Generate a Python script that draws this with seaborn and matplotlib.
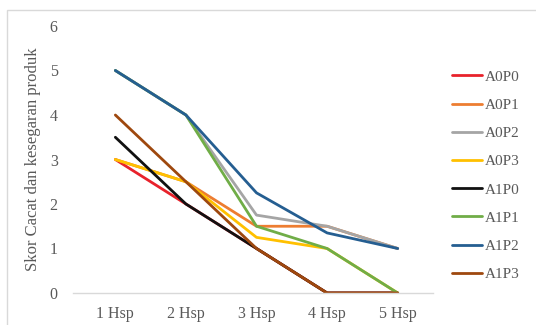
import matplotlib
matplotlib.use("Agg")
import matplotlib.pyplot as plt
import seaborn as sns
import pandas as pd
from matplotlib.patches import Rectangle
from matplotlib.lines import Line2D

days = ["1 Hsp", "2 Hsp", "3 Hsp", "4 Hsp", "5 Hsp"]
a0p0 = [3, 2, 1, 0, 0]
a0p1 = [3, 2.5, 1.5, 1.5, 1]
a0p2 = [5, 4, 1.75, 1.5, 1]
a0p3 = [3, 2.5, 1.25, 1, 0]
a1p0 = [3.5, 2, 1, 0, 0]
a1p1 = [5, 4, 1.5, 1, 0]
a1p2 = [5, 4, 2.25, 1.35, 1]
a1p3 = [4, 2.5, 1, 0, 0]

series = {
    "A0P0": a0p0, "A0P1": a0p1, "A0P2": a0p2, "A0P3": a0p3,
    "A1P0": a1p0, "A1P1": a1p1, "A1P2": a1p2, "A1P3": a1p3,
}
colors = {
    "A0P0": "#E8222B", "A0P1": "#ED7D31", "A0P2": "#A5A5A5", "A0P3": "#FFC000",
    "A1P0": "#111111", "A1P1": "#70AD47", "A1P2": "#255E91", "A1P3": "#9E480E",
}

rows = []
for name, vals in series.items():
    for i, (d, v) in enumerate(zip(days, vals)):
        rows.append({"hari": d, "pos": i, "skor": v, "perlakuan": name})
df = pd.DataFrame(rows)

sns.set_theme(style="white")
plt.rcParams["font.family"] = ["Liberation Serif", "DejaVu Serif"]
text_col = "#595959"

fig = plt.figure(figsize=(5.36, 3.25), dpi=100)
fig.patches.append(Rectangle((7 / 536, -0.1), 1.2, 1 - 10 / 325 + 0.1,
                             transform=fig.transFigure, fill=False,
                             edgecolor="#D9D9D9", linewidth=1.0))
ax = fig.add_axes([73 / 536, 1 - 293 / 325, (433 - 73) / 536, (293 - 26) / 325])

sns.lineplot(data=df, x="pos", y="skor", hue="perlakuan", palette=colors,
             linewidth=2.0, ax=ax, legend=False, sort=False)

ax.set_xlim(-0.6, 4.5)
ax.set_ylim(0, 6)
ax.set_xticks(range(len(days)))
ax.set_xticklabels(days)
ax.set_yticks(range(0, 7))
ax.tick_params(axis="both", length=0, labelsize=11.5, colors=text_col)
ax.tick_params(axis="x", pad=9)
ax.tick_params(axis="y", pad=11)
ax.set_xlabel("")
ax.set_ylabel("Skor Cacat dan kesegaran produk", fontsize=12, color=text_col, labelpad=6)
for s in ["top", "right", "left"]:
    ax.spines[s].set_visible(False)
ax.spines["bottom"].set_color("#D9D9D9")
ax.spines["bottom"].set_linewidth(1.0)
ax.grid(False)

handles = [Line2D([0], [0], color=colors[n], lw=2) for n in series]
fig.legend(handles, list(series.keys()), loc="upper left",
           bbox_to_anchor=(446 / 536, 1 - 64 / 325), frameon=False,
           fontsize=11, labelcolor=text_col, handlelength=1.95,
           handletextpad=0.2, labelspacing=0.95, borderaxespad=0)

fig.savefig("out.png", dpi=100)
